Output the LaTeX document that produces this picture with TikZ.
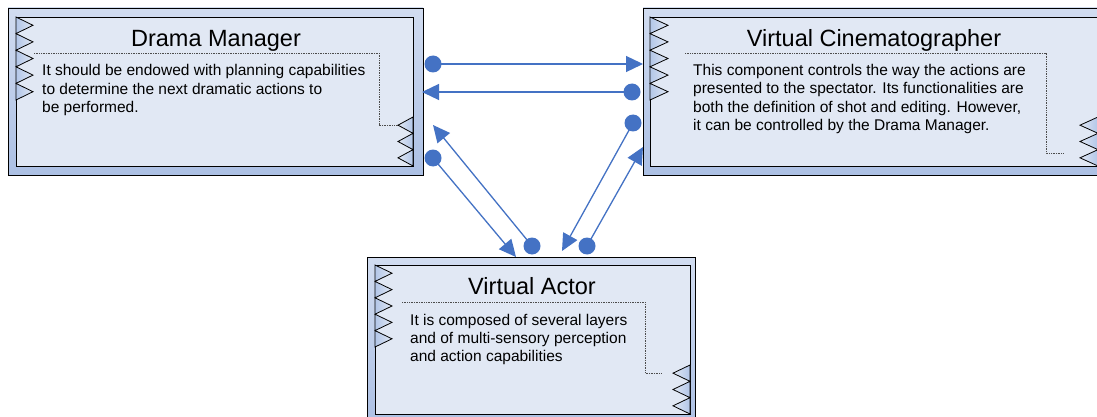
\documentclass[tikz,border=0pt]{standalone}
\usepackage{fontspec}
\setmainfont{Liberation Sans}
\usetikzlibrary{arrows.meta}
\definecolor{conn}{RGB}{68,114,196}
\definecolor{frameblue}{RGB}{172,192,228}
\definecolor{panel}{RGB}{225,232,244}
\definecolor{tooth}{RGB}{178,198,232}

\tikzset{
  outerframe/.style={draw=black, line width=0.8pt, top color=frameblue!55!white, bottom color=frameblue},
  innerpanel/.style={draw=black, line width=0.9pt, fill=panel},
  teethL/.style={draw=black, line width=0.8pt, left color=tooth, right color=panel},
  teethR/.style={draw=black, line width=0.8pt, left color=panel, right color=tooth},
  notch/.style={draw=black!70, line width=0.7pt, densely dotted},
  title/.style={font=\fontsize{23.5}{27}\selectfont, anchor=base, inner sep=0pt},
  body/.style={font=\fontsize{15.5}{18.5}\selectfont, anchor=base west, align=left, inner sep=0pt},
  dot/.style={circle, fill=conn, minimum size=17pt, inner sep=0pt},
  link/.style={draw=conn, line width=1.3pt, shorten <=-1pt, -{Triangle[length=17pt,width=16pt]}},
}

% zigzag strip: base x, tip x, start y, number of teeth, tooth height, style
\newcommand\zigzag[6]{%
  \path[#6] (#1,#3) \foreach \k in {1,...,#4} { -- (#2,{#3+(\k-0.5)*#5}) -- (#1,{#3+\k*#5}) } -- cycle;}

\begin{document}
\begin{tikzpicture}[x=1pt,y=-1pt]
\useasboundingbox (0,0) rectangle (1097,417);
\clip (0,0) rectangle (1097,417);
\fill[white] (0,0) rectangle (1097,417);

% ---- Drama Manager
\path[outerframe] (8,8) rectangle (423,175);
\path[innerpanel] (16,17) rectangle (413,166);
\zigzag{16}{33}{17}{5}{16.6}{teethL}
\zigzag{413}{398}{117}{3}{16.33}{teethR}
\draw[notch] (34,53) -| (379,125) -- (398,125);
\node[title] (dmtitle) at (216,47) {Drama Manager};
% body nodes are anchored on the baseline of their last line
\node[body] (dmtext) at (42,113) {It should be endowed with planning capabilities\\to determine the next dramatic actions to\\be performed.};

% ---- Virtual Cinematographer
\path[outerframe] (643,8) rectangle (1106,175);
\path[innerpanel] (650,17) rectangle (1098,166);
\zigzag{650}{668}{17}{5}{16.6}{teethL}
\zigzag{1098}{1080}{117}{3}{16.33}{teethR}
\draw[notch] (685,53) -| (1046,153) -- (1063,153);
\node[title] (vctitle) at (874,47) {Virtual Cinematographer};
\node[body] (vctext) at (693,131) {This component controls the way the actions are\\presented to the spectator. Its functionalities are\\both the definition of shot and editing. However,\\it can be controlled by the Drama Manager.};

% ---- Virtual Actor
\path[outerframe] (367,257) rectangle (695,425);
\path[innerpanel] (375,265) rectangle (690,414);
\zigzag{375}{392}{265}{5}{16.4}{teethL}
\zigzag{690}{673}{365}{3}{16.33}{teethR}
\draw[notch] (402,302) -| (645,373) -- (662,373);
\node[title] (vatitle) at (532,294) {Virtual Actor};
\node[body, font=\fontsize{15.5}{18}\selectfont] (vatext) at (410,361) {It is composed of several layers\\and of multi-sensory perception\\and action capabilities};

% ---- connectors
\node[dot] (d1) at (433,64) {};
\node[dot] (d2) at (632,92) {};
\node[dot] (d3) at (433,158) {};
\node[dot] (d4) at (532,246) {};
\node[dot] (d5) at (633,123) {};
\node[dot] (d6) at (587,246) {};
\coordinate (e1) at (643,64);
\coordinate (e2) at (422,92);
\coordinate (e3) at (516,257);
\coordinate (e4) at (433,125);
\coordinate (e5) at (562,251);
\coordinate (e6) at (643,147);
\draw[link] (d1) -- (e1);
\draw[link] (d2) -- (e2);
\draw[link] (d3) -- (e3);
\draw[link] (d4) -- (e4);
\draw[link] (d5) -- (e5);
\draw[link] (d6) -- (e6);
\end{tikzpicture}
\end{document}
